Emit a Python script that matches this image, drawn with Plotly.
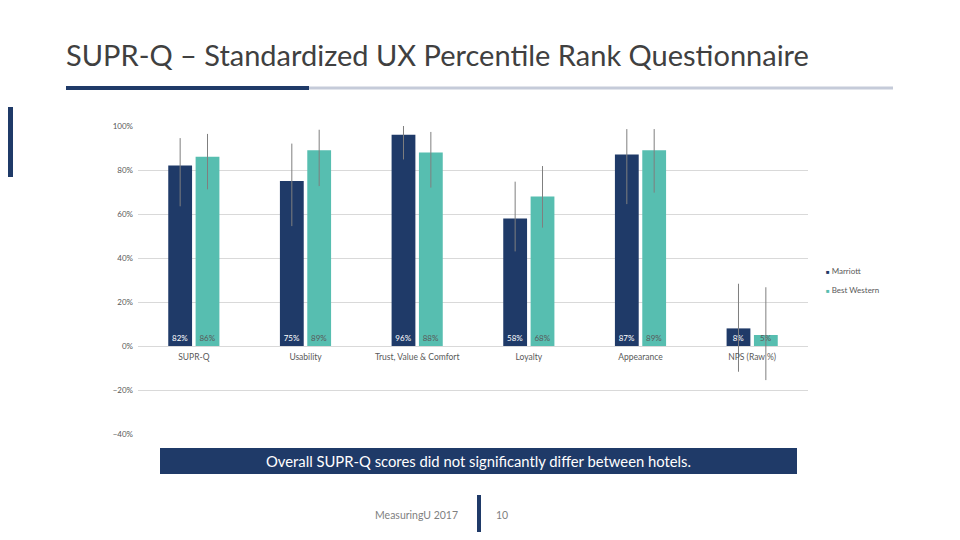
"""SUPR-Q slide: grouped bars with confidence intervals for two hotels."""

import plotly.graph_objects as go

CATEGORIES = ["SUPR-Q", "Usability", "Trust, Value & Comfort", "Loyalty", "Appearance", "NPS (Raw %)"]

MARRIOTT = [0.82, 0.75, 0.96, 0.58, 0.87, 0.08]
MARRIOTT_CI_LOW = [0.635, 0.545, 0.848, 0.43, 0.645, -0.117]
MARRIOTT_CI_HIGH = [0.945, 0.92, 1.0, 0.747, 0.986, 0.283]

BEST_WESTERN = [0.86, 0.89, 0.88, 0.68, 0.89, 0.05]
BW_CI_LOW = [0.712, 0.727, 0.72, 0.538, 0.697, -0.155]
BW_CI_HIGH = [0.964, 0.983, 0.973, 0.818, 0.986, 0.267]

Y_TICKS = [-0.4, -0.2, 0.0, 0.2, 0.4, 0.6, 0.8, 1.0]

NAVY = "#1f3a68"
TEAL = "#57beb0"
GREY_TEXT = "#595959"
FONT = "Lato"

# The page body has an 8px margin, so the figure sits at (8, 8) in the window.
OFF = 8
FIG_W, FIG_H = 960 - 2 * OFF, 540 - 2 * OFF

# plot area in window pixels
L, R, T, B = 138, 808, 126, 434


def px(x):
    return (x - L) / (R - L)


def py(y):
    return (B - y) / (B - T)


def ci(values, low, high):
    return (
        [h - v for v, h in zip(values, high)],
        [v - lo for v, lo in zip(values, low)],
    )


fig = go.Figure()

for name, vals, low, high, color, txt_color in [
    ("Marriott", MARRIOTT, MARRIOTT_CI_LOW, MARRIOTT_CI_HIGH, NAVY, "white"),
    ("Best Western", BEST_WESTERN, BW_CI_LOW, BW_CI_HIGH, TEAL, GREY_TEXT),
]:
    plus, minus = ci(vals, low, high)
    fig.add_trace(
        go.Bar(
            x=CATEGORIES,
            y=vals,
            name=name,
            marker={"color": color, "line": {"width": 0}},
            text=[f"{v:.0%}" for v in vals],
            textposition="inside",
            insidetextanchor="start",
            constraintext="none",
            textfont={"family": FONT, "size": 8, "color": txt_color},
            error_y={
                "type": "data",
                "array": plus,
                "arrayminus": minus,
                "color": "#7f7f7f",
                "thickness": 1,
                "width": 0,
            },
            showlegend=False,
        )
    )
    # legend entry: the coloured square sits right next to the label,
    # so it goes into the label and the default symbol is hidden
    fig.add_trace(
        go.Scatter(
            x=[None],
            y=[None],
            mode="markers",
            name=f'<span style="color:{color}; font-size:6px">■</span> {name}',
            marker={"symbol": "square", "size": 5, "color": "rgba(0,0,0,0)"},
        )
    )

shapes = [
    # left edge accent
    dict(type="rect", x0=px(OFF), x1=px(OFF + 5), y0=py(107), y1=py(177),
         fillcolor=NAVY, line={"width": 0}),
    # title underline
    dict(type="rect", x0=px(309), x1=px(893), y0=py(89.5), y1=py(86.5),
         fillcolor="#c5cbd9", line={"width": 0}),
    dict(type="rect", x0=px(66), x1=px(309), y0=py(90), y1=py(86),
         fillcolor=NAVY, line={"width": 0}),
    # conclusion banner
    dict(type="rect", x0=px(160), x1=px(797), y0=py(474), y1=py(448),
         fillcolor=NAVY, line={"width": 0}),
    # footer divider
    dict(type="rect", x0=px(477), x1=px(481), y0=py(532), y1=py(495),
         fillcolor=NAVY, line={"width": 0}),
]
for s in shapes:
    s.update(xref="paper", yref="paper", layer="above")

annotations = [
    dict(text="SUPR-Q – Standardized UX Percentile Rank Questionnaire",
         x=px(64), y=py(55), xanchor="left", yanchor="middle",
         font={"family": FONT, "size": 29, "color": "#404040"}),
    dict(text="Overall SUPR-Q scores did not significantly differ between hotels.",
         x=px(478.5), y=py(461), xanchor="center", yanchor="middle",
         font={"family": FONT, "size": 14.8, "color": "white"}),
    dict(text="MeasuringU 2017", x=px(460), y=py(515), xanchor="right", yanchor="middle",
         font={"family": FONT, "size": 10.5, "color": "#7f7f7f"}),
    dict(text="10", x=px(494), y=py(515), xanchor="left", yanchor="middle",
         font={"family": FONT, "size": 10.5, "color": "#7f7f7f"}),
]
for a in annotations:
    a.update(xref="paper", yref="paper", showarrow=False)

y_min, y_max = Y_TICKS[0], Y_TICKS[-1]

fig.update_layout(
    width=FIG_W,
    height=FIG_H,
    margin={"l": L - OFF, "r": FIG_W - (R - OFF), "t": T - OFF, "b": FIG_H - (B - OFF), "pad": 0},
    paper_bgcolor="white",
    plot_bgcolor="white",
    barmode="group",
    bargap=0.51,
    bargroupgap=0.13,
    font={"family": FONT, "size": 8, "color": GREY_TEXT},
    xaxis={
        "anchor": "free",
        "position": (0 - y_min) / (y_max - y_min),
        "showline": False,
        "showgrid": False,
        "ticks": "",
        "ticklabelstandoff": 4,
        "tickfont": {"family": FONT, "size": 8.5, "color": GREY_TEXT},
    },
    yaxis={
        "range": [y_min, y_max],
        "tickvals": Y_TICKS,
        "tickformat": ".0%",
        "showgrid": True,
        "gridcolor": "#d9d9d9",
        "gridwidth": 1,
        "zeroline": True,
        "zerolinecolor": "#d9d9d9",
        "zerolinewidth": 1,
        "showline": False,
        "ticks": "",
        "ticklabelstandoff": 4,
        "tickfont": {"family": FONT, "size": 8, "color": GREY_TEXT},
    },
    legend={
        "x": px(786),
        "y": py(256),
        "xanchor": "left",
        "yanchor": "top",
        "font": {"family": FONT, "size": 8, "color": GREY_TEXT},
        "itemwidth": 30,
        "bgcolor": "rgba(0,0,0,0)",
        "tracegroupgap": 0,
    },
    shapes=shapes,
    annotations=annotations,
)

fig.write_html("out.html")
